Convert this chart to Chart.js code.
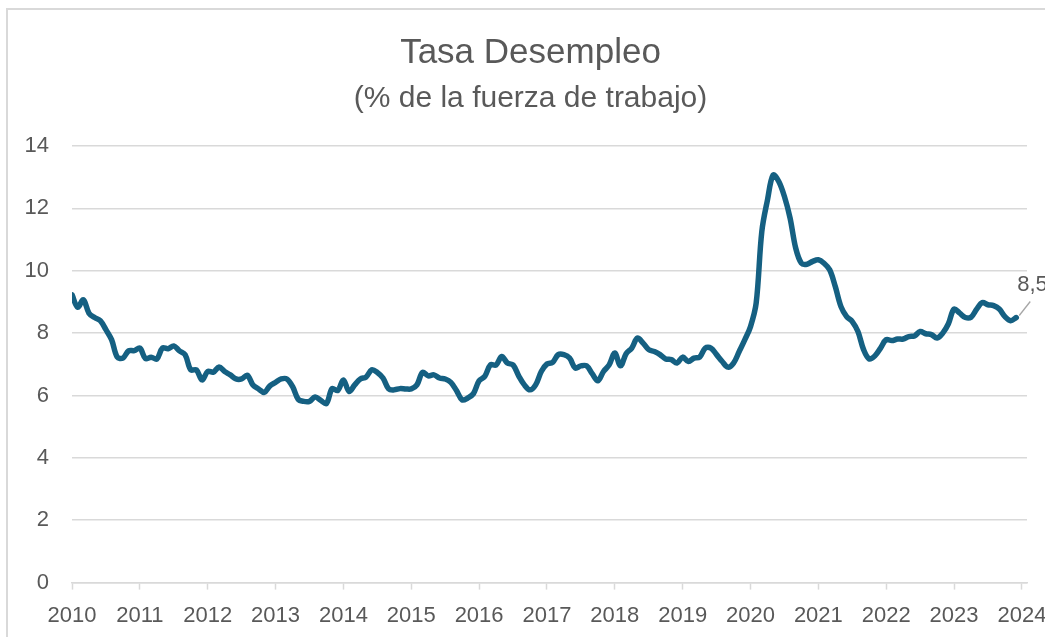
<!DOCTYPE html>
<html lang="es">
<head>
<meta charset="utf-8">
<title>Tasa Desempleo</title>
<script src="https://cdn.jsdelivr.net/npm/chart.js@4.4.1/dist/chart.umd.min.js"></script>
<style>
  html, body { margin: 0; padding: 0; background: #fff; overflow: hidden; }
  #marco {
    position: absolute; left: 6px; top: 8px;
    width: 1100px; height: 700px;
    border: 2px solid #d9d9d9; box-sizing: border-box;
  }
  #wrap { position: absolute; left: 0; top: 0; width: 1045px; height: 637px; }
</style>
</head>
<body>
<div id="marco"></div>
<div id="wrap"><canvas id="grafico"></canvas></div>
<script>
// Años del eje x (un tick cada 12 meses)
const anios = [2010, 2011, 2012, 2013, 2014, 2015, 2016, 2017, 2018, 2019, 2020, 2021, 2022, 2023, 2024];

// Tasa de desempleo mensual, ene-2010 a dic-2023 (% de la fuerza de trabajo)
const tasa = [
  9.23, 8.83, 9.07, 8.64, 8.50, 8.40, 8.11, 7.79, 7.23, 7.20, 7.43, 7.44,      // 2010
  7.52, 7.18, 7.23, 7.17, 7.52, 7.50, 7.59, 7.43, 7.31, 6.82, 6.82, 6.50,      // 2011
  6.77, 6.75, 6.91, 6.77, 6.66, 6.53, 6.53, 6.65, 6.34, 6.21, 6.10, 6.31,      // 2012
  6.42, 6.53, 6.53, 6.29, 5.88, 5.81, 5.81, 5.95, 5.84, 5.74, 6.22, 6.16,      // 2013
  6.50, 6.13, 6.34, 6.53, 6.59, 6.82, 6.74, 6.56, 6.21, 6.18, 6.22, 6.21,      // 2014
  6.21, 6.34, 6.74, 6.63, 6.66, 6.56, 6.53, 6.42, 6.16, 5.86, 5.92, 6.06,      // 2015
  6.47, 6.61, 6.98, 6.98, 7.25, 7.04, 6.98, 6.63, 6.34, 6.18, 6.34, 6.77,      // 2016
  7.01, 7.06, 7.31, 7.31, 7.20, 6.88, 6.95, 6.95, 6.70, 6.47, 6.77, 6.98,      // 2017
  7.36, 6.95, 7.34, 7.52, 7.84, 7.68, 7.47, 7.41, 7.31, 7.17, 7.15, 7.04,      // 2018
  7.23, 7.09, 7.20, 7.23, 7.52, 7.52, 7.31, 7.09, 6.91, 7.04, 7.41, 7.79,      // 2019
  8.21, 8.96, 11.26, 12.27, 13.07, 12.86, 12.38, 11.69, 10.72, 10.24, 10.21, 10.30, // 2020
  10.35, 10.24, 10.03, 9.49, 8.85, 8.53, 8.37, 8.05, 7.47, 7.17, 7.27, 7.52,   // 2021
  7.79, 7.76, 7.81, 7.81, 7.89, 7.91, 8.05, 7.98, 7.95, 7.84, 8.00, 8.30,      // 2022
  8.77, 8.64, 8.50, 8.51, 8.77, 8.98, 8.91, 8.88, 8.77, 8.53, 8.40, 8.50       // 2023
];

// Ticks del eje y
const ticksY = [0, 2, 4, 6, 8, 10, 12, 14];

const COLORES = {
  linea: '#156082',
  texto: '#595959',
  grilla: '#d9d9d9',
  guia: '#a6a6a6',
};
const FUENTE = "'Liberation Sans', Arial, sans-serif";

// Etiqueta del último dato (8,5) con línea guía
const etiquetaFinal = {
  id: 'etiquetaFinal',
  afterLayout(chart) {
    // que las etiquetas del eje y no se recorten
    chart.scales.y.left = 0;
  },
  afterDatasetsDraw(chart) {
    const meta = chart.getDatasetMeta(0);
    const pt = meta.data[meta.data.length - 1];
    if (!pt) return;
    const ctx = chart.ctx;
    ctx.save();
    ctx.strokeStyle = COLORES.guia;
    ctx.lineWidth = 1.3;
    ctx.beginPath();
    ctx.moveTo(pt.x + 3, pt.y - 2);
    ctx.lineTo(pt.x + 14, pt.y - 16);
    ctx.stroke();
    ctx.fillStyle = COLORES.texto;
    ctx.font = `22px ${FUENTE}`;
    ctx.textAlign = 'left';
    ctx.textBaseline = 'middle';
    const valor = tasa[tasa.length - 1].toFixed(1).replace('.', ',');
    ctx.fillText(valor, pt.x + 1, pt.y - 33);
    ctx.restore();
  },
};

new Chart(document.getElementById('grafico').getContext('2d'), {
  type: 'line',
  data: {
    datasets: [{
      label: 'Tasa Desempleo',
      data: tasa.map((v, i) => ({ x: i, y: v })),
      borderColor: COLORES.linea,
      borderWidth: 5.5,
      borderCapStyle: 'round',
      borderJoinStyle: 'round',
      tension: 0.35,
      pointRadius: 0,
      fill: false,
    }],
  },
  options: {
    responsive: true,
    maintainAspectRatio: false,
    animation: false,
    events: [],
    layout: { padding: { left: 34, right: 18, top: 0, bottom: -5 } },
    plugins: {
      legend: { display: false },
      tooltip: { enabled: false },
      title: {
        display: true,
        text: 'Tasa Desempleo',
        color: COLORES.texto,
        font: { family: FUENTE, size: 35, weight: 'normal' },
        padding: { top: 32, bottom: 7 },
      },
      subtitle: {
        display: true,
        text: '(% de la fuerza de trabajo)',
        color: COLORES.texto,
        font: { family: FUENTE, size: 30, weight: 'normal' },
        padding: { top: 0, bottom: 29 },
      },
    },
    scales: {
      x: {
        type: 'linear',
        min: 0,
        max: 168.9,
        afterBuildTicks: (scale) => {
          scale.ticks = anios.map((a, i) => ({ value: i * 12 }));
        },
        afterFit: (scale) => { scale.paddingRight = 0; scale.paddingLeft = 0; },
        grid: {
          drawOnChartArea: false,
          drawTicks: true,
          tickLength: 7,
          tickColor: COLORES.grilla,
          tickWidth: 1.5,
        },
        border: { display: true, color: COLORES.grilla, width: 1.5 },
        ticks: {
          color: COLORES.texto,
          font: { family: FUENTE, size: 22 },
          padding: 13,
          maxRotation: 0,
          autoSkip: false,
          callback: (v) => anios[Math.round(v / 12)],
        },
      },
      y: {
        min: 0,
        max: 14,
        afterBuildTicks: (scale) => {
          scale.ticks = ticksY.map(v => ({ value: v }));
        },
        afterFit: (scale) => { scale.width = 38; },
        grid: {
          color: COLORES.grilla,
          lineWidth: 1.5,
          drawTicks: false,
        },
        border: { display: false },
        ticks: {
          color: COLORES.texto,
          font: { family: FUENTE, size: 22 },
          padding: 23,
        },
      },
    },
  },
  plugins: [etiquetaFinal],
});
</script>
</body>
</html>
